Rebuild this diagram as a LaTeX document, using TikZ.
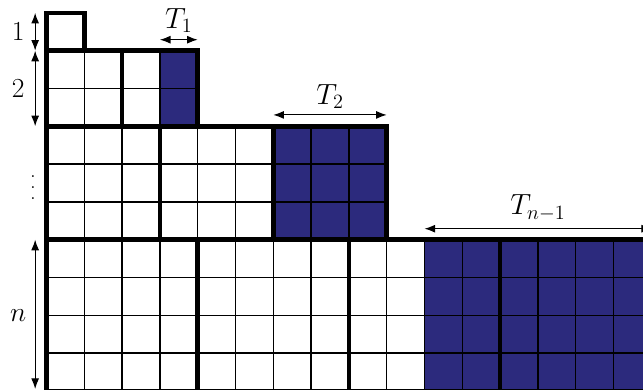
\documentclass[tikz,border=0pt]{standalone}
\usetikzlibrary{arrows.meta}
\definecolor{cellblue}{RGB}{44,42,125}
\begin{document}
\begin{tikzpicture}[
  thinline/.style={line width=1pt},
  thickline/.style={line width=3.4pt, line cap=rect},
  dimline/.style={line width=0.8pt, {Latex[length=8pt,width=6pt]}-{Latex[length=8pt,width=6pt]}},
  lab/.style={inner sep=0pt, font=\huge},
  tlab/.style={inner sep=0pt, font=\huge, scale=1.06}
]
\useasboundingbox (-1.23,0.026) rectangle (15.78,10.34);
% blue cells
\fill[cellblue] (3,7) rectangle (4,9);
\fill[cellblue] (6,4) rectangle (9,7);
\fill[cellblue] (10,0) rectangle (16,4);
% thin grids
\draw[thinline] (0,0) grid (16,4);
\draw[thinline] (0,4) grid (9,7);
\draw[thinline] (0,7) grid (4,9);
\draw[thinline] (0,9) grid (1,10);
% thick outline
\draw[thickline] (0,0) -- (0,10) -- (1,10) -- (1,9);
\draw[thickline] (0,9) -- (4,9) -- (4,7);
\draw[thickline] (0,7) -- (9,7) -- (9,4);
\draw[thickline] (0,4) -- (16,4);
\draw[thickline] (0,0) -- (16,0);
% thick separators
\draw[thickline] (2,7) -- (2,9);
\draw[thickline] (3,4) -- (3,7);
\draw[thickline] (6,4) -- (6,7);
\draw[thickline] (4,0) -- (4,4);
\draw[thickline] (8,0) -- (8,4);
\draw[thickline] (12,0) -- (12,4);
% dimension coordinates
\coordinate (a1) at (-0.30,10);
\coordinate (a2) at (-0.30,9);
\coordinate (a3) at (-0.30,7);
\coordinate (a4) at (-0.30,4);
\coordinate (a5) at (-0.30,0.05);
\coordinate (t1l) at (3,9.29);
\coordinate (t1r) at (4,9.29);
\coordinate (t2l) at (6,7.3);
\coordinate (t2r) at (9,7.3);
\coordinate (t3l) at (10,4.29);
\coordinate (t3r) at (16.02,4.29);
\draw[dimline] (a1) -- (a2);
\draw[dimline] (a2) -- (a3);
\draw[dimline] (a4) -- (a5);
\draw[dimline] (t1l) -- (t1r);
\draw[dimline] (t2l) -- (t2r);
\draw[dimline] (t3l) -- (t3r);
% labels
\node[lab] (l1) at (-0.75,9.5) {$1$};
\node[lab] (l2) at (-0.75,8.0) {$2$};
\node[inner sep=0pt, font=\LARGE] (ld) at (-0.36,5.37)
  {\vbox{\baselineskip=8.25pt\lineskiplimit=0pt\hbox{.}\hbox{.}\hbox{.}}};
\node[lab] (ln) at (-0.75,2.0) {$n$};
\node[tlab] (lt1) at (3.5,9.8) {$T_1$};
\node[tlab] (lt2) at (7.5,7.78) {$T_2$};
\node[tlab] (lt3) at (13,4.84) {$T_{n-1}$};
\end{tikzpicture}
\end{document}
